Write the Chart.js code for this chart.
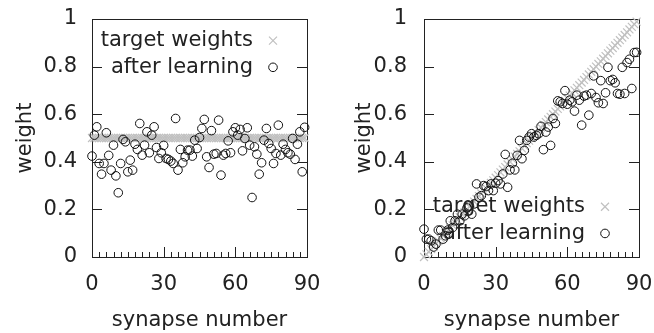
<!DOCTYPE html>
<html>
<head>
<meta charset="utf-8">
<script src="https://cdn.jsdelivr.net/npm/chart.js@4/dist/chart.umd.min.js"></script>
<style>
html,body{margin:0;padding:0;background:#fff;}
#wrap{position:relative;width:654px;height:333px;overflow:hidden;}
.pane{position:absolute;top:0;width:327px;height:333px;}
</style>
</head>
<body>
<div id="wrap">
  <div class="pane" style="left:0"><canvas id="c1" width="327" height="333"></canvas></div>
  <div class="pane" style="left:327px"><canvas id="c2" width="327" height="333"></canvas></div>
</div>
<script>
// ---------- data ----------
const synapseIndex = Array.from({length: 90}, (_, i) => i);
const xTicks = [0, 30, 60, 90];
const yTicks = [0, 0.2, 0.4, 0.6, 0.8, 1];
const legendLabels = ["target weights", "after learning"];

// left panel: uniform targets
const targetUniform = [
  0.5,0.5,0.5,0.5,0.5,0.5,0.5,0.5,0.5,0.5,0.5,0.5,0.5,0.5,0.5,0.5,0.5,0.5,0.5,0.5,
  0.5,0.5,0.5,0.5,0.5,0.5,0.5,0.5,0.5,0.5,0.5,0.5,0.5,0.5,0.5,0.5,0.5,0.5,0.5,0.5,
  0.5,0.5,0.5,0.5,0.5,0.5,0.5,0.5,0.5,0.5,0.5,0.5,0.5,0.5,0.5,0.5,0.5,0.5,0.5,0.5,
  0.5,0.5,0.5,0.5,0.5,0.5,0.5,0.5,0.5,0.5,0.5,0.5,0.5,0.5,0.5,0.5,0.5,0.5,0.5,0.5,
  0.5,0.5,0.5,0.5,0.5,0.5,0.5,0.5,0.5,0.5
];
const learnedUniform = [
  0.424,0.512,0.547,0.393,0.348,0.393,0.522,0.427,0.365,0.470,
  0.341,0.270,0.393,0.494,0.484,0.358,0.407,0.365,0.474,0.452,
  0.561,0.428,0.470,0.526,0.438,0.512,0.547,0.460,0.414,0.438,
  0.469,0.414,0.410,0.403,0.393,0.582,0.365,0.452,0.396,0.421,
  0.449,0.449,0.424,0.491,0.456,0.502,0.540,0.578,0.421,0.376,
  0.531,0.432,0.435,0.575,0.344,0.428,0.435,0.488,0.438,0.526,
  0.543,0.512,0.536,0.446,0.498,0.543,0.470,0.250,0.463,0.432,
  0.348,0.396,0.491,0.540,0.477,0.456,0.393,0.435,0.554,0.428,
  0.474,0.452,0.438,0.432,0.498,0.410,0.474,0.526,0.358,0.545
];

// right panel: ramp targets
const targetRamp = [
  0.000,0.011,0.022,0.033,0.044,0.056,0.067,0.078,0.089,0.100,
  0.111,0.122,0.133,0.144,0.156,0.167,0.178,0.189,0.200,0.211,
  0.222,0.233,0.244,0.256,0.267,0.278,0.289,0.300,0.311,0.322,
  0.333,0.344,0.356,0.367,0.378,0.389,0.400,0.411,0.422,0.433,
  0.444,0.456,0.467,0.478,0.489,0.500,0.511,0.522,0.533,0.544,
  0.556,0.567,0.578,0.589,0.600,0.611,0.622,0.633,0.644,0.656,
  0.667,0.678,0.689,0.700,0.711,0.722,0.733,0.744,0.756,0.767,
  0.778,0.789,0.800,0.811,0.822,0.833,0.844,0.856,0.867,0.878,
  0.889,0.900,0.911,0.922,0.933,0.944,0.956,0.967,0.978,0.989
];
const learnedRamp = [
  0.117,0.075,0.075,0.068,0.042,0.054,0.113,0.113,0.075,0.089,
  0.113,0.152,0.124,0.152,0.180,0.152,0.180,0.173,0.206,0.215,
  0.180,0.223,0.307,0.251,0.258,0.300,0.296,0.279,0.307,0.279,
  0.310,0.321,0.307,0.349,0.431,0.293,0.366,0.394,0.366,0.427,
  0.490,0.413,0.448,0.490,0.504,0.518,0.504,0.511,0.518,0.549,
  0.451,0.525,0.546,0.469,0.582,0.561,0.656,0.652,0.645,0.699,
  0.642,0.659,0.652,0.613,0.680,0.659,0.554,0.676,0.680,0.596,
  0.687,0.761,0.670,0.648,0.741,0.645,0.690,0.797,0.741,0.746,
  0.732,0.687,0.684,0.797,0.687,0.817,0.831,0.708,0.859,0.860
];

// ---------- styling ----------
const FONT = "DejaVu Sans";
const FS = 21;
const TXT = "#222";
const AXIS = "#222";
const GREY = "#c0c0c0";

function pts(ys){ return synapseIndex.map((x,i)=>({x:x, y:ys[i]})); }

const framePlugin = {
  id: 'frame',
  beforeDatasetsDraw(chart){
    const ctx = chart.ctx, a = chart.chartArea;
    const xs = chart.scales.x, ys = chart.scales.y;
    ctx.save();
    ctx.strokeStyle = AXIS; ctx.lineWidth = 1;
    ctx.strokeRect(Math.round(a.left)+0.5, Math.round(a.top)+0.5, Math.round(a.right-a.left), Math.round(a.bottom-a.top));
    ctx.beginPath();
    yTicks.forEach(v=>{
      const py = Math.round(ys.getPixelForValue(v))+0.5;
      ctx.moveTo(a.left, py); ctx.lineTo(a.left+10, py);
      ctx.moveTo(a.right, py); ctx.lineTo(a.right-10, py);
    });
    for (let v = 0; v <= 90; v += 3){
      const px = Math.round(xs.getPixelForValue(v))+0.5;
      const len = (v % 30 === 0) ? 10 : 5;
      ctx.moveTo(px, a.bottom); ctx.lineTo(px, a.bottom-len);
    }
    ctx.stroke();
    ctx.restore();
  }
};

function legendPlugin(rowYFrac){
  return {
    id: 'customLegend',
    afterDatasetsDraw(chart){
      const ctx = chart.ctx, a = chart.chartArea;
      const ys = chart.scales.y;
      ctx.save();
      ctx.font = FS + "px '" + FONT + "'";
      ctx.fillStyle = TXT;
      ctx.textAlign = 'right';
      ctx.textBaseline = 'middle';
      const tx = a.right - 54, mx = a.right - 34;
      rowYFrac.forEach((v, i)=>{
        const py = ys.getPixelForValue(v);
        ctx.fillText(legendLabels[i], tx, py);
        ctx.beginPath();
        if (i === 0){
          ctx.strokeStyle = GREY; ctx.lineWidth = 1.2;
          const r = 4;
          ctx.moveTo(mx-r, py-r); ctx.lineTo(mx+r, py+r);
          ctx.moveTo(mx-r, py+r); ctx.lineTo(mx+r, py-r);
        } else {
          ctx.strokeStyle = '#111'; ctx.lineWidth = 1;
          ctx.arc(mx, py, 4.3, 0, Math.PI*2);
        }
        ctx.stroke();
      });
      ctx.restore();
    }
  };
}

function makeChart(id, target, learned, yAxisWidth, padRight, tickPad, titlePad, legendRows){
  return new Chart(document.getElementById(id), {
    type: 'scatter',
    data: {
      datasets: [
        { label: legendLabels[1], data: pts(learned), order: 0,
          pointStyle: 'circle', pointRadius: 4.3, pointHoverRadius: 4.3,
          borderColor: '#111', backgroundColor: 'rgba(0,0,0,0)', borderWidth: 1, clip: false },
        { label: legendLabels[0], data: pts(target), order: 1,
          pointStyle: 'crossRot', pointRadius: 5.6, pointHoverRadius: 5.6,
          borderColor: GREY, backgroundColor: GREY, borderWidth: 1.2, clip: false }
      ]
    },
    options: {
      responsive: false,
      animation: false,
      events: [],
      layout: { padding: { top: 19, right: padRight, bottom: 0, left: 0 } },
      plugins: { legend: { display: false }, tooltip: { enabled: false } },
      scales: {
        x: {
          type: 'linear', min: 0, max: 90,
          afterFit(s){ s.height = 76; s.paddingLeft = 0; s.paddingRight = 0; },
          afterBuildTicks(s){ s.ticks = xTicks.map(v=>({value:v})); },
          grid: { display: false, drawTicks: false },
          border: { display: false },
          ticks: { color: TXT, font: { family: FONT, size: FS }, padding: 15, maxRotation: 0,
                   callback: v => String(v) },
          title: { display: true, text: 'synapse number', color: TXT,
                   font: { family: FONT, size: FS }, padding: { top: 4, bottom: 0 } }
        },
        y: {
          type: 'linear', min: 0, max: 1,
          afterFit(s){ s.width = yAxisWidth; s.paddingTop = 0; s.paddingBottom = 0; },
          afterBuildTicks(s){ s.ticks = yTicks.map(v=>({value:v})); },
          grid: { display: false, drawTicks: false },
          border: { display: false },
          ticks: { color: TXT, font: { family: FONT, size: FS }, padding: tickPad,
                   callback: v => String(v) },
          title: { display: true, text: 'weight', color: TXT,
                   font: { family: FONT, size: FS }, padding: { top: titlePad, bottom: 0 } }
        }
      }
    },
    plugins: [framePlugin, legendPlugin(legendRows)]
  });
}

makeChart('c1', targetUniform, learnedUniform, 92, 20, 15, 13, [0.909, 0.797]);
makeChart('c2', targetRamp, learnedRamp, 97, 15, 17, 25, [0.211, 0.099]);
</script>
</body>
</html>
